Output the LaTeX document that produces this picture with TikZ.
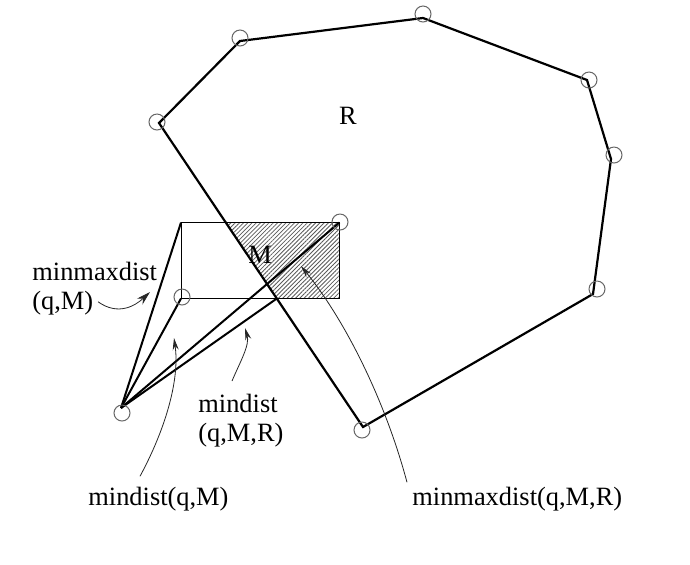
\documentclass[tikz,border=0pt]{standalone}
\usepackage{fontspec}
\setmainfont{Liberation Serif}
\usetikzlibrary{calc,patterns.meta,arrows.meta}

\begin{document}
\begin{tikzpicture}[x=0.5pt, y=-0.5pt,
        edge/.style={line width=1.1pt},
        dline/.style={line width=1pt},
        vtx/.style={circle, draw=black!60, line width=0.5pt, minimum size=8pt, inner sep=0pt},
        ptr/.style={line width=0.4pt, black!85, -{Stealth[length=6pt,width=3pt]}},
        lbl/.style={inner sep=0pt, font=\fontsize{13.2}{14.5}\selectfont}]
        \useasboundingbox (0,0) rectangle (690,564);

        % Region R
        \coordinate (ra) at (159,123);
        \coordinate (rb) at (240,41);
        \coordinate (rc) at (423,18);
        \coordinate (rd) at (587,80);
        \coordinate (re) at (611,159);
        \coordinate (rf) at (593,294);
        \coordinate (rg) at (363,427);

        % Rectangle M
        \coordinate (mtl) at (181,222.5);
        \coordinate (mtr) at (339.5,222.5);
        \coordinate (mbr) at (339.5,298.5);
        \coordinate (mbl) at (181,298.5);
        \coordinate (ip1) at (intersection of ra--rg and mtl--mtr);
        \coordinate (ip2) at (intersection of ra--rg and mbl--mbr);

        % query point
        \coordinate (q) at (121,408);

        % part of M inside R
        \fill[pattern={Lines[angle=45, distance=1.5pt, line width=0.4pt]}, pattern color=black!65]
            (ip1) -- (mtr) -- (mbr) -- (ip2) -- cycle;
        \draw[line width=0.5pt] (mtl) rectangle (mbr);

        \draw[edge] (ra) -- (rb) -- (rc) -- (rd) -- (re) -- (rf) -- (rg) -- cycle;

        % distances from q
        \draw[dline] (q) -- (mtl);
        \draw[dline] (q) -- (mbl);
        \draw[dline] (q) -- (mtr);
        \draw[dline] (q) -- (ip2);

        % vertices
        \node[vtx] (ca) at (157,122) {};
        \node[vtx] (cb) at (240,38) {};
        \node[vtx] (cc) at (423,14) {};
        \node[vtx] (cd) at (589,80) {};
        \node[vtx] (ce) at (614,155) {};
        \node[vtx] (cf) at (597,289) {};
        \node[vtx] (cg) at (362,430) {};
        \node[vtx] (cm1) at (340,222) {};
        \node[vtx] (cm2) at (182,297) {};
        \node[vtx] (cq) at (122,413) {};

        % labels
        \node[lbl] (lr) at (348,116) {R};
        \node[lbl] (lm) at (260,255) {M};
        \node[lbl, align=left, anchor=north west] (lmmqm) at (32,262) {minmaxdist\\(q,M)};
        \node[lbl, align=left, anchor=north west] (lmdqmr) at (198,394) {mindist\\(q,M,R)};
        \node[lbl, anchor=base west] (lmdqm) at (88,505) {mindist(q,M)};
        \node[lbl, anchor=base west] (lmmqmr) at (412,505) {minmaxdist(q,M,R)};

        % pointers
        \coordinate (t1) at (150,292);
        \coordinate (t2) at (174,338);
        \coordinate (t3) at (245,328);
        \coordinate (t4) at (301,266);
        \draw[ptr, -{Stealth[length=7pt,width=4pt]}] ($(lmmqm.south west)+(66,-14)$) .. controls (118,316) and (135,306) .. (t1);
        \draw[ptr] ($(lmdqm.north west)+(52,-10)$) .. controls (165,430) and (180,380) .. (t2);
        \draw[ptr] ($(lmdqmr.north west)+(34,-13)$) .. controls (240,362) and (250,345) .. (t3);
        \draw[ptr] ($(lmmqmr.north west)+(-5,-4)$) .. controls (385,400) and (345,320) .. (t4);
\end{tikzpicture}
\end{document}
